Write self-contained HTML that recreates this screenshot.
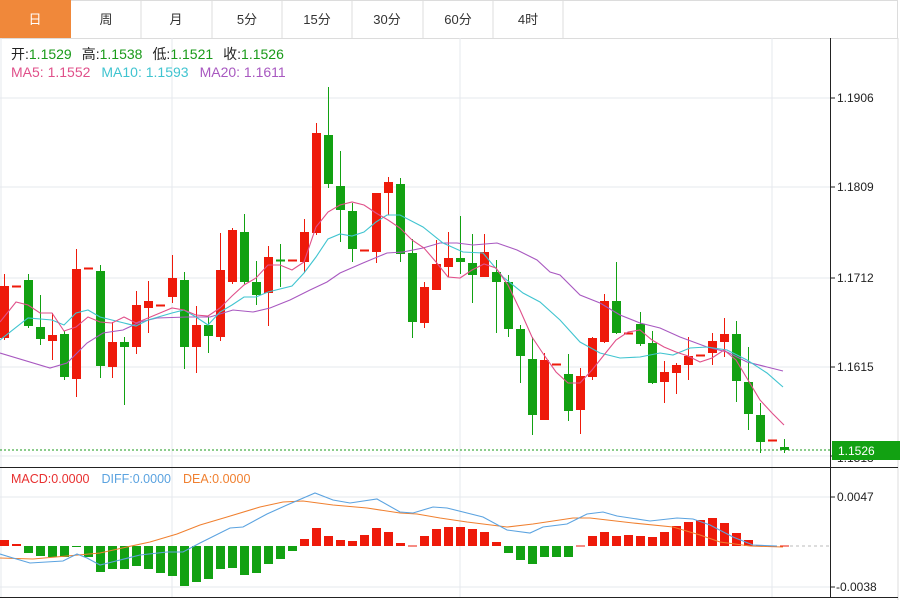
<!DOCTYPE html>
<html><head><meta charset="utf-8">
<style>
body{margin:0;width:909px;height:600px;overflow:hidden;background:#fff;font-family:"Liberation Sans","Noto Sans CJK SC",sans-serif;}
svg{position:absolute;left:0;top:0}
</style></head><body>
<svg id="s" width="909" height="600" xmlns="http://www.w3.org/2000/svg" font-family="Liberation Sans, Noto Sans CJK SC, sans-serif">
<rect x="0" y="0" width="909" height="600" fill="#fff"/>
<rect x="0.5" y="0.5" width="897" height="38" fill="#fff" stroke="#dcdcdc"/>
<rect x="0" y="0" width="71" height="38" fill="#f0883a"/>
<g stroke="#dcdcdc">
<line x1="141" y1="0" x2="141" y2="38"/><line x1="212" y1="0" x2="212" y2="38"/><line x1="282" y1="0" x2="282" y2="38"/><line x1="352" y1="0" x2="352" y2="38"/><line x1="423" y1="0" x2="423" y2="38"/><line x1="493" y1="0" x2="493" y2="38"/><line x1="563" y1="0" x2="563" y2="38"/>
</g>
<g font-size="13" text-anchor="middle" fill="#333">
<text x="35" y="24" fill="#fff">日</text><text x="106" y="24">周</text><text x="176" y="24">月</text><text x="247" y="24">5分</text><text x="317" y="24">15分</text><text x="387" y="24">30分</text><text x="458" y="24">60分</text><text x="528" y="24">4时</text>
</g>
<line x1="898" y1="38" x2="898" y2="600" stroke="#dcdcdc"/>
<g stroke="#e6e8ee" stroke-width="1">
<line x1="0" y1="98" x2="830" y2="98"/><line x1="0" y1="187" x2="830" y2="187"/><line x1="0" y1="278" x2="830" y2="278"/><line x1="0" y1="367" x2="830" y2="367"/><line x1="0" y1="456" x2="830" y2="456"/>
<line x1="0" y1="497" x2="830" y2="497"/><line x1="0" y1="587" x2="830" y2="587"/>
<line x1="172" y1="38" x2="172" y2="597"/><line x1="460" y1="38" x2="460" y2="597"/><line x1="772" y1="38" x2="772" y2="597"/>
<line x1="1" y1="38" x2="1" y2="597"/>
</g>
<g id="cand"></g>
<g id="mas" fill="none" stroke-width="1.1"></g>
<line x1="0" y1="450" x2="830" y2="450" stroke="#1a9a1a" stroke-dasharray="2,2"/>
<line x1="830.5" y1="38" x2="830.5" y2="597" stroke="#222"/>
<line x1="0" y1="467.5" x2="898" y2="467.5" stroke="#222"/>
<line x1="0" y1="597.5" x2="898" y2="597.5" stroke="#222"/>
<g stroke="#222"><line x1="830" y1="98" x2="835" y2="98"/><line x1="830" y1="187" x2="835" y2="187"/><line x1="830" y1="278" x2="835" y2="278"/><line x1="830" y1="367" x2="835" y2="367"/><line x1="830" y1="456" x2="835" y2="456"/><line x1="830" y1="497" x2="835" y2="497"/><line x1="830" y1="587" x2="835" y2="587"/></g>
<g font-size="12" fill="#222">
<text x="837" y="102">1.1906</text><text x="837" y="191">1.1809</text><text x="837" y="282">1.1712</text><text x="837" y="371">1.1615</text><text x="837" y="462">1.1518</text>
<text x="837" y="501">0.0047</text><text x="836" y="591">-0.0038</text>
</g>
<rect x="832" y="441" width="68" height="19" fill="#12a112"/>
<text x="838" y="455" font-size="12" fill="#fff">1.1526</text>
<g font-size="14">
<text x="11" y="59"><tspan fill="#222">开:</tspan><tspan fill="#1a9a1a">1.1529</tspan><tspan fill="#222" dx="10">高:</tspan><tspan fill="#1a9a1a">1.1538</tspan><tspan fill="#222" dx="10">低:</tspan><tspan fill="#1a9a1a">1.1521</tspan><tspan fill="#222" dx="10">收:</tspan><tspan fill="#1a9a1a">1.1526</tspan></text>
<text x="11" y="77"><tspan fill="#e0508a">MA5: 1.1552</tspan><tspan fill="#40c4d0" dx="11">MA10: 1.1593</tspan><tspan fill="#a858c0" dx="11">MA20: 1.1611</tspan></text>
</g>
<g font-size="12.5">
<text x="11" y="483"><tspan fill="#e83030">MACD:0.0000</tspan><tspan fill="#5ba3e0" dx="12">DIFF:0.0000</tspan><tspan fill="#f08030" dx="12">DEA:0.0000</tspan></text>
</g>
<line x1="784" y1="546" x2="830" y2="546" stroke="#bbb" stroke-dasharray="3,3"/>
<g id="macd"></g>
</svg>
<script>
var R="#ee1a0a",G="#12a112";
var C=[[338,286,274,340],[286,286,286,286],[280,326,274,328],[327,339,295,345],[341,335,313,360],[334,377,331,380],[379,269,249,397],[268,268,268,268],[271,366,265,378],[367,342,322,378],[342,347,337,405],[347,305,291,354],[308,301,281,333],[305,305,305,305],[297,278,255,303],[280,347,272,369],[347,325,306,373],[325,336,317,353],[337,270,233,341],[282,230,228,284],[232,282,214,284],[282,295,261,305],[293,257,246,326],[260,260,244,287],[260,260,260,260],[262,232,219,273],[233,133,123,235],[135,184,87,188],[186,210,151,242],[211,249,203,262],[250,250,250,250],[252,193,193,263],[193,182,177,215],[184,254,178,262],[253,322,239,338],[323,287,282,328],[290,264,240,290],[267,258,232,277],[258,262,216,274],[263,275,234,303],[277,252,234,277],[272,282,260,333],[282,329,275,337],[329,356,325,383],[359,415,337,435],[420,360,353,420],[364,364,364,364],[374,411,354,421],[410,376,368,434],[377,338,337,380],[342,301,294,343],[301,333,262,334],[333,333,333,333],[324,344,312,346],[343,383,331,384],[382,372,361,403],[373,365,363,394],[365,356,337,380],[355,355,355,355],[353,341,333,365],[342,334,318,357],[334,381,321,402],[382,414,347,430],[415,442,403,453],[440,440,440,440],[447,450,439,453]];
var g=document.getElementById('cand'),h='';
C.forEach(function(d,i){var x=4+12*i,o=d[0],c=d[1],col=c<o?R:G;if(o==c&&d[2]==d[3])col=R;
h+='<line x1="'+(x+.5)+'" y1="'+d[2]+'" x2="'+(x+.5)+'" y2="'+d[3]+'" stroke="'+col+'"/>';
var t=Math.min(o,c),b=Math.max(o,c);if(b-t<2){h+='<rect x="'+(x-4)+'" y="'+(t-0.5)+'" width="9" height="2" fill="'+col+'"/>';}else h+='<rect x="'+(x-4)+'" y="'+t+'" width="9" height="'+(b-t)+'" fill="'+col+'"/>';});
g.innerHTML=h;
function pl(p,c){return '<polyline points="'+p.map(function(a){return a.join(',')}).join(' ')+'" stroke="'+c+'"/>';}
var ma5=[[0,322],[16,302],[28,305],[40,313],[52,313],[64,331],[76,327],[88,317],[100,322],[112,323],[124,317],[136,323],[148,318],[160,313],[172,308],[184,310],[196,315],[208,316],[220,308],[232,296],[244,285],[256,278],[268,265],[280,265],[292,270],[304,262],[316,227],[328,212],[340,205],[352,202],[364,205],[376,213],[388,220],[400,228],[412,240],[424,248],[436,262],[448,277],[460,278],[472,270],[484,264],[496,268],[508,285],[520,310],[532,337],[544,355],[556,372],[568,383],[580,383],[592,370],[604,355],[616,340],[628,332],[640,330],[652,340],[664,347],[676,352],[688,356],[700,362],[712,358],[724,350],[736,360],[748,380],[760,400],[772,413],[784,425]];
var ma10=[[0,340],[28,318],[52,320],[64,325],[76,313],[88,310],[100,317],[124,323],[136,326],[148,320],[172,313],[184,310],[196,317],[208,325],[220,312],[232,305],[244,297],[256,297],[268,292],[292,286],[304,273],[316,257],[328,239],[340,234],[352,236],[364,232],[376,222],[387,215],[400,215],[423,227],[443,243],[463,252],[483,253],[503,277],[523,293],[540,302],[560,320],[580,342],[600,353],[620,358],[640,357],[660,353],[673,355],[690,348],[707,347],[727,350],[747,360],[767,373],[783,387]];
var ma20=[[0,353],[50,368],[67,363],[87,343],[103,333],[123,330],[140,322],[157,318],[187,317],[210,317],[233,310],[253,312],[270,308],[290,300],[310,290],[327,282],[340,273],[363,263],[387,253],[403,252],[423,248],[440,243],[457,243],[473,245],[497,243],[517,250],[537,260],[550,272],[560,275],[580,295],[600,303],[620,315],[640,323],[660,328],[680,337],[707,347],[727,352],[747,362],[767,367],[783,371]];
document.getElementById('mas').innerHTML=pl(ma20,'#a858c0')+pl(ma10,'#40c4d0')+pl(ma5,'#e0508a');
var M=[6,2,-7,-10,-11,-11,-1,-11,-26,-23,-23,-20,-23,-27,-30,-40,-36,-33,-23,-22,-29,-27,-18,-13,-5,7,18,10,6,5,11,18,14,3,0,10,17,19,19,17,14,4,-7,-14,-18,-11,-11,-11,0,10,14,10,11,10,9,14,20,24,26,28,23,13,6,1,0,0];
var mh='';M.forEach(function(v,i){var x=4+12*i;if(v==0){mh+='<rect x="'+(x-4)+'" y="545.5" width="9" height="1" fill="'+R+'"/>';return;}
var col=v>0?R:G;mh+='<rect x="'+(x-4)+'" y="'+(v>0?546-v:546)+'" width="9" height="'+Math.abs(v)+'" fill="'+col+'"/>';});
var diff=[[0,554],[13,558],[30,563],[63,561],[77,554],[87,558],[100,565],[120,560],[140,555],[167,552],[183,552],[200,543],[230,528],[243,527],[267,514],[287,505],[315,493],[333,500],[350,503],[377,499],[400,512],[413,513],[433,507],[447,508],[483,517],[507,530],[530,533],[543,527],[567,524],[587,514],[603,512],[617,516],[650,521],[677,518],[693,519],[710,525],[733,537],[753,545],[777,546]];
var dea=[[0,558],[33,559],[67,556],[100,553],[127,547],[150,542],[177,534],[200,525],[227,517],[260,507],[283,502],[303,501],[333,505],[367,508],[400,513],[417,514],[440,518],[467,522],[507,527],[533,524],[573,518],[590,518],[633,523],[673,527],[700,535],[720,542],[750,546],[783,547]];
mh+='<g fill="none" stroke-width="1.1">'+pl(dea,'#f08030')+pl(diff,'#5ba3e0')+'</g>';
document.getElementById('macd').innerHTML=mh;
</script>
</body></html>
